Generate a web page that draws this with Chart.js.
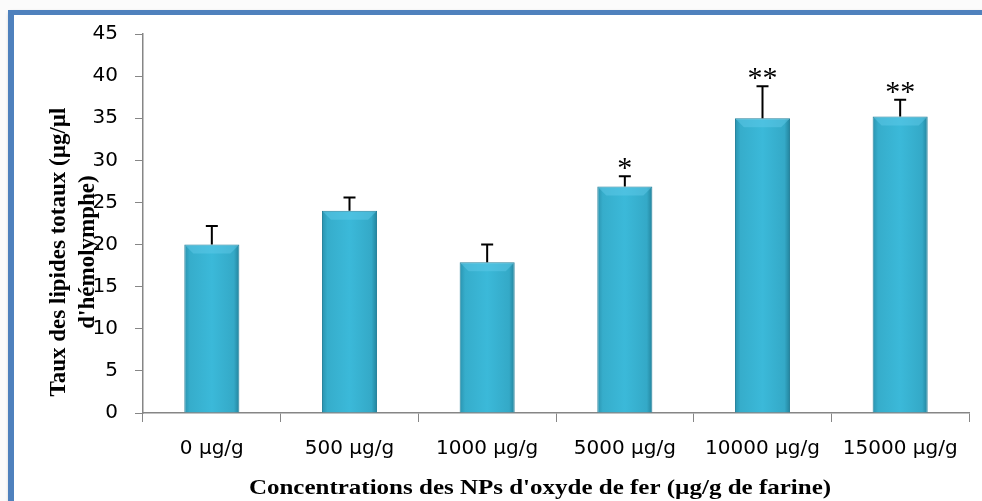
<!DOCTYPE html>
<html>
<head>
<meta charset="utf-8">
<script src="https://cdn.jsdelivr.net/npm/chart.js@4/dist/chart.umd.min.js"></script>
<style>
    html, body { margin: 0; padding: 0; background: #fbfbfb; }
    #frame {
        position: absolute; left: 8px; top: 10px; width: 990px; height: 486px;
        background: #ffffff;
        border-top: 5px solid #4f81bd; border-left: 6px solid #4f81bd;
        box-shadow: 2px 3px 4px rgba(0,0,0,0.45);
    }
    #wrap { position: absolute; left: 0; top: 0; width: 982px; height: 501px; }
</style>
</head>
<body>
<div id="frame"></div>
<div id="wrap"><canvas id="lipidChart"></canvas></div>
<script>
// Data
const categories = ['0 µg/g', '500 µg/g', '1000 µg/g', '5000 µg/g', '10000 µg/g', '15000 µg/g'];
const lipidValues = [20, 24, 17.9, 26.9, 35, 35.2];
const errorValues = [2.2, 1.6, 2.1, 1.2, 3.8, 2];
const significance = ['', '', '', '*', '**', '**'];
const yTicks = [0, 5, 10, 15, 20, 25, 30, 35, 40, 45];

const yTitleLines = ['Taux des lipides totaux (µg/µl', "d'hémolymphe)"];
const xTitle = "Concentrations des NPs d'oxyde de fer (µg/g de farine)";

// Bars shaded like the bevelled Excel columns
function barFill(context) {
    const chart = context.chart;
    const xScale = chart.scales.x;
    if (!xScale || context.dataIndex === undefined) return '#38b4d4';
    const cx = xScale.getPixelForValue(context.dataIndex);
    const half = (xScale.width / categories.length) * 0.2;
    if (!Number.isFinite(cx) || !Number.isFinite(half) || half <= 0) return '#38b4d4';
    const g = chart.ctx.createLinearGradient(cx - half, 0, cx + half, 0);
    g.addColorStop(0, '#2a93af');
    g.addColorStop(0.1, '#36adcb');
    g.addColorStop(0.5, '#3bb9d9');
    g.addColorStop(0.9, '#34a9c7');
    g.addColorStop(1, '#23839c');
    return g;
}

// Light bevel on top of each column, error bars (upward only), stars
const errorBarPlugin = {
    id: 'errorBars',
    afterDatasetsDraw(chart) {
        const ctx = chart.ctx;
        const yScale = chart.scales.y;
        const meta = chart.getDatasetMeta(0);
        ctx.save();
        meta.data.forEach((bar, i) => {
            const half = bar.width / 2;
            const bev = 9;
            ctx.fillStyle = 'rgba(100, 205, 235, 0.45)';
            ctx.beginPath();
            ctx.moveTo(bar.x - half + 1, bar.y + 1);
            ctx.lineTo(bar.x + half - 1, bar.y + 1);
            ctx.lineTo(bar.x + half - bev, bar.y + bev);
            ctx.lineTo(bar.x - half + bev, bar.y + bev);
            ctx.closePath();
            ctx.fill();

            const top = yScale.getPixelForValue(lipidValues[i] + errorValues[i]);
            ctx.strokeStyle = '#000000';
            ctx.lineWidth = 2;
            ctx.beginPath();
            ctx.moveTo(bar.x, bar.y);
            ctx.lineTo(bar.x, top);
            ctx.moveTo(bar.x - 6, top);
            ctx.lineTo(bar.x + 6, top);
            ctx.stroke();
            if (significance[i]) {
                ctx.fillStyle = '#000000';
                ctx.font = '30px "Liberation Serif", "DejaVu Serif", serif';
                ctx.textAlign = 'center';
                ctx.textBaseline = 'alphabetic';
                ctx.fillText(significance[i], bar.x, top + 1);
            }
        });
        ctx.restore();
    }
};

// Axis titles drawn by hand so they sit where the original puts them
const axisTitlePlugin = {
    id: 'axisTitles',
    afterDraw(chart) {
        const ctx = chart.ctx;
        ctx.save();
        ctx.fillStyle = '#000000';
        ctx.font = 'bold 23px "Liberation Serif", "Times New Roman", serif';
        ctx.textAlign = 'center';
        ctx.textBaseline = 'middle';
        ctx.save();
        ctx.translate(59, 252);
        ctx.rotate(-Math.PI / 2);
        ctx.fillText(yTitleLines[0], 0, 0);
        ctx.fillText(yTitleLines[1], 0, 29);
        ctx.restore();
        ctx.save();
        ctx.font = 'bold 21px "Liberation Serif", "Times New Roman", serif';
        ctx.translate(540, 489);
        ctx.scale(1.19, 1);
        ctx.fillText(xTitle, 0, 0);
        ctx.restore();
        ctx.restore();
    }
};

document.addEventListener('DOMContentLoaded', function() {
    const ctx = document.getElementById('lipidChart').getContext('2d');
    new Chart(ctx, {
        type: 'bar',
        data: {
            labels: categories,
            datasets: [{
                data: lipidValues,
                backgroundColor: barFill,
                borderColor: '#23809a',
                borderWidth: 1,
                barPercentage: 0.8,
                categoryPercentage: 0.5
            }]
        },
        options: {
            responsive: true,
            maintainAspectRatio: false,
            animation: false,
            layout: { padding: { left: 0, top: 34, right: 13, bottom: 0 } },
            plugins: {
                legend: { display: false },
                tooltip: { enabled: false }
            },
            scales: {
                x: {
                    grid: {
                        offset: true,
                        drawOnChartArea: false,
                        drawTicks: true,
                        tickLength: 9,
                        color: '#868686'
                    },
                    border: { color: '#868686', width: 1.5 },
                    ticks: {
                        color: '#000000',
                        font: { family: '"DejaVu Sans", sans-serif', size: 20 },
                        padding: 15,
                        maxRotation: 0,
                        autoSkip: false
                    },
                    afterFit(scale) { scale.height = 88; }
                },
                y: {
                    min: 0,
                    max: 45,
                    afterBuildTicks(scale) {
                        scale.ticks = yTicks.map(v => ({ value: v }));
                    },
                    grid: {
                        drawOnChartArea: false,
                        drawTicks: true,
                        tickLength: 8,
                        color: '#868686'
                    },
                    border: { color: '#868686', width: 1.5 },
                    ticks: {
                        color: '#000000',
                        font: { family: '"DejaVu Sans", sans-serif', size: 20 },
                        padding: 17
                    },
                    afterFit(scale) { scale.width = 143; }
                }
            }
        },
        plugins: [errorBarPlugin, axisTitlePlugin]
    });
});
</script>
</body>
</html>
